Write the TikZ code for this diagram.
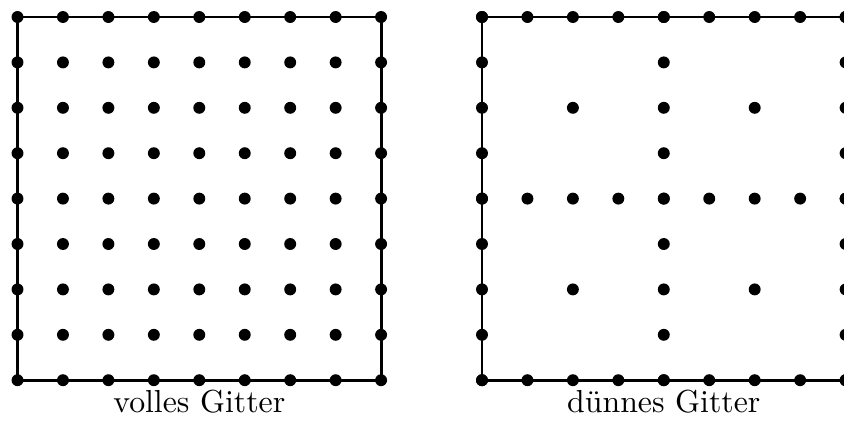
\documentclass[tikz,border=0pt]{standalone}
\begin{document}
\begin{tikzpicture}[x=0.3268pt,y=-0.3268pt,
  frame/.style={line width=0.95pt},
  gridpt/.style={fill=black},
  caption/.style={anchor=base,inner sep=0pt,font=\fontsize{10.4}{12}\selectfont}]
\useasboundingbox (0,0) rectangle (844,421);
\def\st{45.45}
\def\sy{45.4}
% full grid
\def\xa{17.5}
\def\ya{17}
\draw[frame] (\xa,\ya) rectangle ({\xa+8*\st},{\ya+8*\sy});
\foreach \i in {0,...,8}
  \foreach \j in {0,...,8}
    \fill[gridpt] ({\xa+\i*\st},{\ya+\j*\sy}) circle[radius=1.95pt];
\node[caption] (full) at ({\xa+4*\st},412) {volles Gitter};
% sparse grid
\def\xb{482}
\draw[frame] (\xb,\ya) rectangle ({\xb+8*\st},{\ya+8*\sy});
\foreach \i in {0,...,8} {
  \fill[gridpt] ({\xb+\i*\st},\ya) circle[radius=1.95pt];
  \fill[gridpt] ({\xb+\i*\st},{\ya+8*\sy}) circle[radius=1.95pt];
  \fill[gridpt] (\xb,{\ya+\i*\sy}) circle[radius=1.95pt];
  \fill[gridpt] ({\xb+8*\st},{\ya+\i*\sy}) circle[radius=1.95pt];
  \fill[gridpt] ({\xb+4*\st},{\ya+\i*\sy}) circle[radius=1.95pt];
  \fill[gridpt] ({\xb+\i*\st},{\ya+4*\sy}) circle[radius=1.95pt];
}
\foreach \i/\j in {2/2,6/2,2/6,6/6}
  \fill[gridpt] ({\xb+\i*\st},{\ya+\j*\sy}) circle[radius=1.95pt];
\node[caption] (sparse) at ({\xb+4*\st},412) {dünnes Gitter};
\end{tikzpicture}
\end{document}
